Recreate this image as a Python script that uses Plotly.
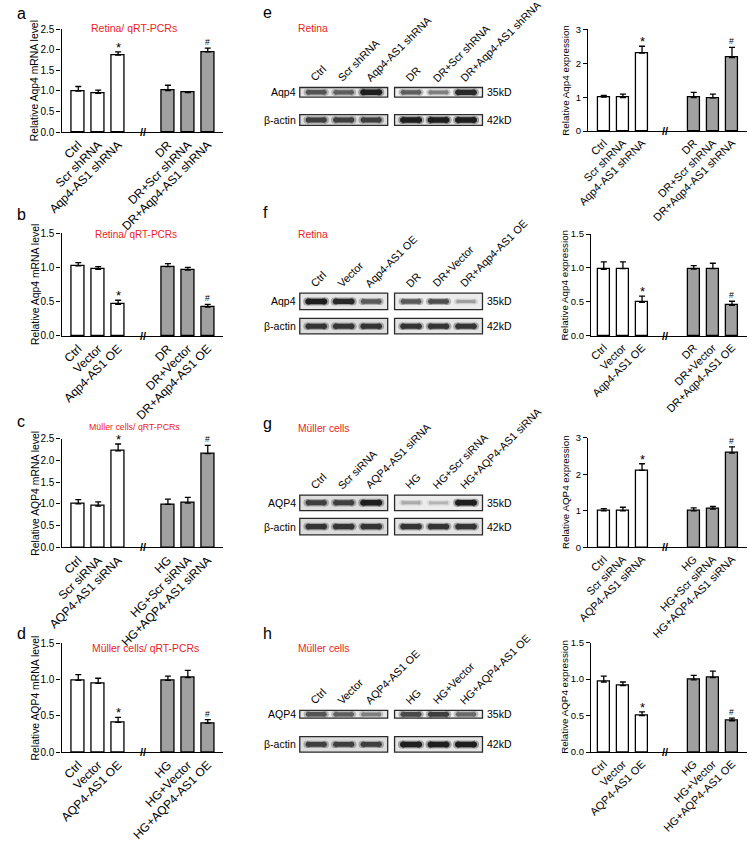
import plotly.graph_objects as go

W, H = 750, 842
FONT = "Arial, Liberation Sans, sans-serif"
RED = "#ec1c24"
GRAY = "#a0a0a0"

# ---------------- data ----------------
cats_a = ["Ctrl", "Scr shRNA", "Aqp4-AS1 shRNA", "DR", "DR+Scr shRNA", "DR+Aqp4-AS1 shRNA"]
vals_a = [1.00, 0.94, 1.87, 1.01, 0.96, 1.95]
err_a = [0.11, 0.08, 0.08, 0.13, 0.02, 0.09]

cats_b = ["Ctrl", "Vector", "Aqp4-AS1 OE", "DR", "DR+Vector", "DR+Aqp4-AS1 OE"]
vals_b = [1.02, 0.97, 0.46, 1.01, 0.96, 0.42]
err_b = [0.05, 0.04, 0.06, 0.045, 0.04, 0.04]

cats_c = ["Ctrl", "Scr siRNA", "AQP4-AS1 siRNA", "HG", "HG+Scr siRNA", "HG+AQP4-AS1 siRNA"]
vals_c = [1.00, 0.95, 2.22, 0.99, 1.02, 2.16]
err_c = [0.10, 0.10, 0.16, 0.12, 0.13, 0.19]

cats_d = ["Ctrl", "Vector", "AQP4-AS1 OE", "HG", "HG+Vector", "HG+AQP4-AS1 OE"]
vals_d = [0.99, 0.95, 0.41, 0.99, 1.03, 0.40]
err_d = [0.08, 0.07, 0.07, 0.06, 0.10, 0.05]

vals_e = [1.00, 0.99, 2.30, 0.99, 0.98, 2.17]
err_e = [0.05, 0.10, 0.20, 0.15, 0.11, 0.30]

vals_f = [0.98, 0.99, 0.495, 0.985, 0.99, 0.45]
err_f = [0.11, 0.10, 0.09, 0.05, 0.08, 0.06]

vals_g = [1.00, 1.00, 2.11, 1.00, 1.05, 2.58]
err_g = [0.06, 0.10, 0.18, 0.08, 0.07, 0.17]

vals_h = [0.96, 0.91, 0.50, 0.99, 1.02, 0.43]
err_h = [0.08, 0.05, 0.05, 0.06, 0.09, 0.035]

# western blot band intensities (0 = none, 1 = darkest)
band_e_target = [0.75, 0.70, 1.00, 0.70, 0.55, 0.95]
band_e_actin = [0.85, 0.85, 0.85, 1.00, 1.00, 1.00]
band_f_target = [1.00, 0.95, 0.72, 0.72, 0.78, 0.40]
band_f_actin = [0.90, 0.90, 0.90, 0.90, 0.90, 0.90]
band_g_target = [0.85, 0.85, 1.00, 0.35, 0.30, 1.00]
band_g_actin = [0.90, 0.90, 0.90, 0.90, 0.90, 0.90]
band_h_target = [0.75, 0.70, 0.55, 0.80, 0.85, 0.65]
band_h_actin = [0.85, 0.85, 0.85, 1.00, 1.00, 1.00]

# ---------------- helpers ----------------
fig = go.Figure()
ann = []
shp = []
lay = {}


def px_x(p):
    return p / W


def px_y(p):
    return 1 - p / H


SIDES = {
    "L": dict(bar0=65.5, unit=20.3, pos=[0, 1, 2, 4.5, 5.5, 6.5], brk=3.25, right=213,
              tick=10, xtick=12, ytsize=10.4),
    "R": dict(bar0=601, unit=19.5, pos=[0, 1, 2, 4.7, 5.7, 6.7], brk=3.2, right=747,
              tick=9.5, xtick=11, ytsize=9.8),
}

bar_panels = [
    dict(cats=cats_a, vals=vals_a, errs=err_a, ymax=2.5, dtick=0.5, fmt="{:.1f}", side="L",
         left=48.5, top=24, bot=130, ytitle="Relative Aqp4 mRNA level", ytx=21,
         title="Retina/ qRT-PCRs", tx=122, ty=23, tsize=10.5, letter="a", lx=1, ly=8),
    dict(cats=cats_b, vals=vals_b, errs=err_b, ymax=1.5, dtick=0.5, fmt="{:.1f}", side="L",
         left=48.5, top=234, bot=340, ytitle="Relative Aqp4 mRNA level", ytx=22,
         title="Retina/ qRT-PCRs", tx=124, ty=236, tsize=10, letter="b", lx=1, ly=215),
    dict(cats=cats_c, vals=vals_c, errs=err_c, ymax=2.5, dtick=0.5, fmt="{:.1f}", side="L",
         left=48.5, top=446, bot=558, ytitle="Relative AQP4 mRNA level", ytx=22,
         title="Müller cells/ qRT-PCRs", tx=123, ty=434, tsize=8.8, letter="c", lx=1, ly=428),
    dict(cats=cats_d, vals=vals_d, errs=err_d, ymax=1.5, dtick=0.5, fmt="{:.1f}", side="L",
         left=48.5, top=657, bot=769, ytitle="Relative AQP4 mRNA level", ytx=22,
         title="Müller cells/ qRT-PCRs", tx=134, ty=662, tsize=10.4, letter="d", lx=1, ly=647),
    dict(cats=cats_a, vals=vals_e, errs=err_e, ymax=3, dtick=1, fmt="{:.0f}", side="R",
         left=585, top=24, bot=129, ytitle="Relative Aqp4 expression", ytx=562),
    dict(cats=cats_b, vals=vals_f, errs=err_f, ymax=1.5, dtick=0.5, fmt="{:.1f}", side="R",
         left=588, top=235, bot=340, ytitle="Relative Aqp4 expression", ytx=561),
    dict(cats=cats_c, vals=vals_g, errs=err_g, ymax=3, dtick=1, fmt="{:.0f}", side="R",
         left=585, top=445, bot=558, ytitle="Relative AQP4 expression", ytx=562),
    dict(cats=cats_d, vals=vals_h, errs=err_h, ymax=1.5, dtick=0.5, fmt="{:.1f}", side="R",
         left=588, top=656, bot=769, ytitle="Relative AQP4 expression", ytx=561),
]

for i, p in enumerate(bar_panels, start=1):
    s = SIDES[p["side"]]
    xa = "x" if i == 1 else f"x{i}"
    ya = "y" if i == 1 else f"y{i}"
    pos = s["pos"]
    colors = ["white"] * 3 + [GRAY] * 3
    fig.add_trace(go.Bar(
        x=pos, y=p["vals"], xaxis=xa, yaxis=ya, width=0.64,
        marker=dict(color=colors, line=dict(color="black", width=1.3)),
        error_y=dict(type="data", array=p["errs"], arrayminus=[0] * 6, symmetric=False,
                     color="black", thickness=1.3, width=3),
        hoverinfo="skip",
    ))
    xr = [(p["left"] - s["bar0"]) / s["unit"], (s["right"] - s["bar0"]) / s["unit"]]
    n = int(round(p["ymax"] / p["dtick"]))
    tv = [k * p["dtick"] for k in range(n + 1)]
    lay[f"xaxis{i}"] = dict(
        domain=[px_x(p["left"]), px_x(s["right"])], range=xr, anchor=ya,
        showline=True, linecolor="black", linewidth=1.3, ticks="", showgrid=False,
        zeroline=False, tickvals=pos, ticktext=p["cats"], tickangle=-45,
        tickfont=dict(size=s["xtick"], family=FONT, color="black"), fixedrange=True,
    )
    lay[f"yaxis{i}"] = dict(
        domain=[px_y(p["bot"]), px_y(p["top"])], range=[0, p["ymax"]], anchor=xa,
        showline=True, linecolor="black", linewidth=1.3, ticks="outside", ticklen=4,
        tickwidth=1.2, tickcolor="black", showgrid=False, zeroline=False,
        tickvals=tv, ticktext=[p["fmt"].format(v) for v in tv],
        tickfont=dict(size=s["tick"], family=FONT, color="black"), fixedrange=True,
    )
    # axis break
    ann.append(dict(x=s["brk"], y=0, xref=xa, yref=ya, text="<b>//</b>", showarrow=False,
                    font=dict(size=11, family=FONT, color="black"), yshift=0))
    # significance marks
    ann.append(dict(x=pos[2], y=p["vals"][2] + p["errs"][2], xref=xa, yref=ya, text="*",
                    showarrow=False, yanchor="bottom", yshift=-5,
                    font=dict(size=13, family=FONT, color="black")))
    ann.append(dict(x=pos[5], y=p["vals"][5] + p["errs"][5], xref=xa, yref=ya, text="#",
                    showarrow=False, yanchor="bottom", yshift=-1,
                    font=dict(size=8.5, family=FONT, color="black")))
    # y title
    ann.append(dict(x=px_x(p["ytx"]), y=px_y((p["top"] + p["bot"]) / 2), xref="paper",
                    yref="paper", text=p["ytitle"], textangle=-90, showarrow=False,
                    xanchor="center", yanchor="middle",
                    font=dict(size=s["ytsize"], family=FONT, color="black")))
    if "title" in p:
        ann.append(dict(x=px_x(p["tx"]), y=px_y(p["ty"]), xref="paper", yref="paper",
                        text=p["title"], showarrow=False, xanchor="center", yanchor="middle",
                        font=dict(size=p["tsize"], family=FONT, color=RED)))
        ann.append(dict(x=px_x(p["lx"]), y=px_y(p["ly"]), xref="paper", yref="paper",
                        text=p["letter"], showarrow=False, xanchor="left", yanchor="middle",
                        font=dict(size=16, family=FONT, color="black")))

# ---------------- western blots ----------------
lanes = [0, 1, 2, 3.45, 4.45, 5.45]
LANE0, LANEU = 308, 28
blot_xr = [(250 - LANE0) / LANEU, (500 - LANE0) / LANEU]

blots = [
    dict(cats=cats_a, target="Aqp4", t=band_e_target, a=band_e_actin, yt=89, ya=117.5, ht=10,
         ha=11, title="Retina", ty=23, letter="e", ly=7, bgt=["#e2e2e2", "#efefef"]),
    dict(cats=cats_b, target="Aqp4", t=band_f_target, a=band_f_actin, yt=304.5, ya=330, ht=17,
         ha=16, title="Retina", ty=236, letter="f", ly=213, bgt=["#e6e6e6", "#ececec"]),
    dict(cats=cats_c, target="AQP4", t=band_g_target, a=band_g_actin, yt=512, ya=536.5, ht=16,
         ha=17, title="Müller cells", ty=435, letter="g", ly=430, bgt=["#dedede", "#ececec"]),
    dict(cats=cats_d, target="AQP4", t=band_h_target, a=band_h_actin, yt=730, ya=761, ht=8,
         ha=16, title="Müller cells", ty=662, letter="h", ly=647, bgt=["#e6e6e6", "#ececec"]),
]


def band_color(v, alpha=1.0):
    g = int(round(245 - 215 * v))
    return f"rgba({g},{g},{g},{alpha})"


for j, b in enumerate(blots):
    k = 9 + j
    xa, ya = f"x{k}", f"y{k}"
    d = b["ya"] - b["yt"]
    lay[f"xaxis{k}"] = dict(domain=[px_x(250), px_x(500)], range=blot_xr, visible=False,
                            anchor=ya, fixedrange=True)
    lay[f"yaxis{k}"] = dict(domain=[px_y(b["ya"] + d), px_y(b["yt"] - d)], range=[-1, 2],
                            visible=False, anchor=xa, fixedrange=True)
    groups = [(lanes[0], lanes[2]), (lanes[3], lanes[5])]
    for row, h_px, vals, bgs in [(1, b["ht"], b["t"], b["bgt"]),
                                 (0, b["ha"], b["a"], ["#dcdcdc", "#e4e4e4"])]:
        hh = h_px / 2 / d
        for gi, (g0, g1) in enumerate(groups):
            shp.append(dict(type="rect", xref=xa, yref=ya, x0=g0 - 0.6, x1=g1 + 0.6,
                            y0=row - hh, y1=row + hh, fillcolor=bgs[gi],
                            line=dict(color="#2a2a2a", width=1.3), layer="below"))
        for li, v in enumerate(vals):
            thick = min(h_px - 3, 1.5 + 4.0 * v)
            fig.add_trace(go.Scatter(x=[lanes[li] - 0.33, lanes[li] + 0.33], y=[row, row],
                                     xaxis=xa, yaxis=ya, mode="lines+markers", hoverinfo="skip",
                                     line=dict(color=band_color(v, 0.35), width=thick + 2.5),
                                     marker=dict(size=thick + 2.5, color=band_color(v, 0.35),
                                                 line=dict(width=0))))
            fig.add_trace(go.Scatter(x=[lanes[li] - 0.30, lanes[li] + 0.30], y=[row, row],
                                     xaxis=xa, yaxis=ya, mode="lines+markers", hoverinfo="skip",
                                     line=dict(color=band_color(v), width=thick),
                                     marker=dict(size=thick, color=band_color(v),
                                                 line=dict(width=0))))
    # row labels
    for row, txt, kd in [(1, b["target"], "35kD"), (0, "β-actin", "42kD")]:
        ann.append(dict(x=lanes[0] - 0.66, y=row, xref=xa, yref=ya, text=txt, showarrow=False,
                        xanchor="right", yanchor="middle",
                        font=dict(size=10.5, family=FONT, color="black")))
        ann.append(dict(x=lanes[5] + 0.68, y=row, xref=xa, yref=ya, text=kd, showarrow=False,
                        xanchor="left", yanchor="middle",
                        font=dict(size=10.5, family=FONT, color="black")))
    # lane labels
    top_off = 1 + (b["ht"] / 2 + 1) / d
    for li, c in enumerate(b["cats"]):
        ann.append(dict(x=lanes[li] - 0.4, y=top_off, xref=xa, yref=ya, text=c,
                        showarrow=False, textangle=-45, xanchor="left", yanchor="bottom",
                        font=dict(size=10.8, family=FONT, color="black")))
    ann.append(dict(x=px_x(287), y=px_y(b["ty"]), xref="paper", yref="paper", text=b["title"],
                    showarrow=False, xanchor="left", yanchor="middle",
                    font=dict(size=10.3, family=FONT, color=RED)))
    ann.append(dict(x=px_x(252), y=px_y(b["ly"]), xref="paper", yref="paper", text=b["letter"],
                    showarrow=False, xanchor="left", yanchor="middle",
                    font=dict(size=16, family=FONT, color="black")))

fig.update_layout(width=W, height=H, margin=dict(l=0, r=0, t=0, b=0),
                  paper_bgcolor="white", plot_bgcolor="rgba(0,0,0,0)", showlegend=False,
                  font=dict(family=FONT, color="black"), annotations=ann, shapes=shp,
                  bargap=0, **lay)
fig.write_html("out.html", config={"displayModeBar": False},
               post_script="document.body.style.margin='0px';")
